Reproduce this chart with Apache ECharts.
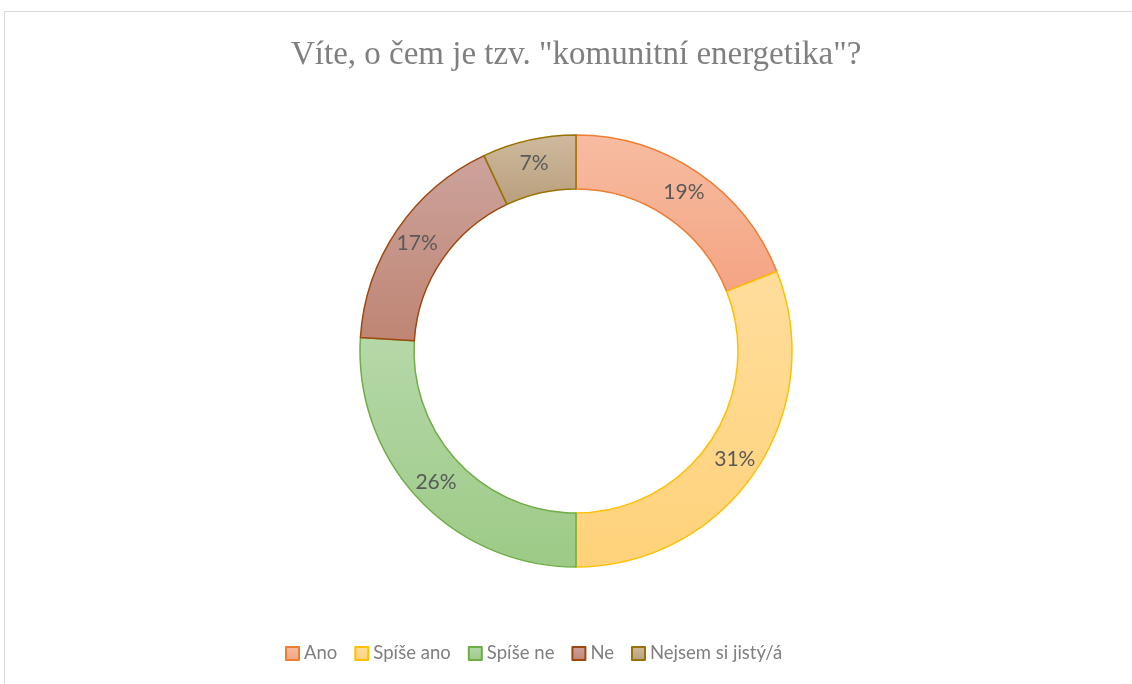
<!DOCTYPE html>
<html>
<head>
<meta charset="utf-8">
<script src="https://cdn.jsdelivr.net/npm/echarts@6/dist/echarts.min.js"></script>
<style>
	html, body { margin: 0; padding: 0; background: #fff; }
	#chart { width: 1132px; height: 684px; }
</style>
</head>
<body>
<div id="chart"></div>
<script>
// kategorie a hodnoty (%)
const categories = ['Ano', 'Spíše ano', 'Spíše ne', 'Ne', 'Nejsem si jistý/á'];
const values = [19, 31, 26, 17, 7];
// barvy: světlejší nahoře, tmavší dole, obrys
const fillTop = ['#F7BCA2', '#FFDD9C', '#B5D8A8', '#CCA39C', '#CFBA9E'];
const fillBottom = ['#F4A482', '#FFD27A', '#9DCA87', '#BF8574', '#B89F7D'];
const borders = ['#ED7D31', '#FFC000', '#70AD47', '#9E480E', '#997300'];

let chart = echarts.init(document.getElementById('chart'));

let data = categories.map((name, i) => ({
	name: name,
	value: values[i],
	itemStyle: {
		color: new echarts.graphic.LinearGradient(0, 0, 0, 1, [
			{ offset: 0, color: fillTop[i] },
			{ offset: 1, color: fillBottom[i] },
		]),
		borderColor: borders[i],
		borderWidth: 1.5,
	},
}));

let option = {
	animation: false,
	graphic: [
		{
			type: 'rect',
			shape: { x: 4.5, y: 11.5, width: 1200, height: 800 },
			style: { fill: 'none', stroke: '#D9D9D9', lineWidth: 1 },
			silent: true,
		},
	],
	title: {
		text: 'Víte, o čem je tzv. "komunitní energetika"?',
		left: 286,
		top: 34,
		textStyle: {
			fontFamily: '"Liberation Serif", "Times New Roman", serif',
			fontSize: 33,
			fontWeight: 'normal',
			color: '#7F7F7F',
		},
	},
	legend: {
		data: categories,
		left: 280,
		top: 639,
		icon: 'rect',
		itemWidth: 13,
		itemHeight: 13,
		itemGap: 17,
		textStyle: {
			fontFamily: 'Lato, sans-serif',
			fontSize: 18.5,
			color: '#7F7F7F',
		},
	},
	series: [
		{
			type: 'pie',
			center: [576, 351],
			radius: [162, 216],
			startAngle: 90,
			clockwise: true,
			avoidLabelOverlap: false,
			label: {
				show: true,
				position: 'inside',
				formatter: '{c}%',
				fontFamily: 'Lato, sans-serif',
				fontSize: 21,
				color: '#595959',
			},
			labelLine: { show: false },
			emphasis: { disabled: true },
			data: data,
		},
	],
};
chart.setOption(option);
</script>
</body>
</html>
